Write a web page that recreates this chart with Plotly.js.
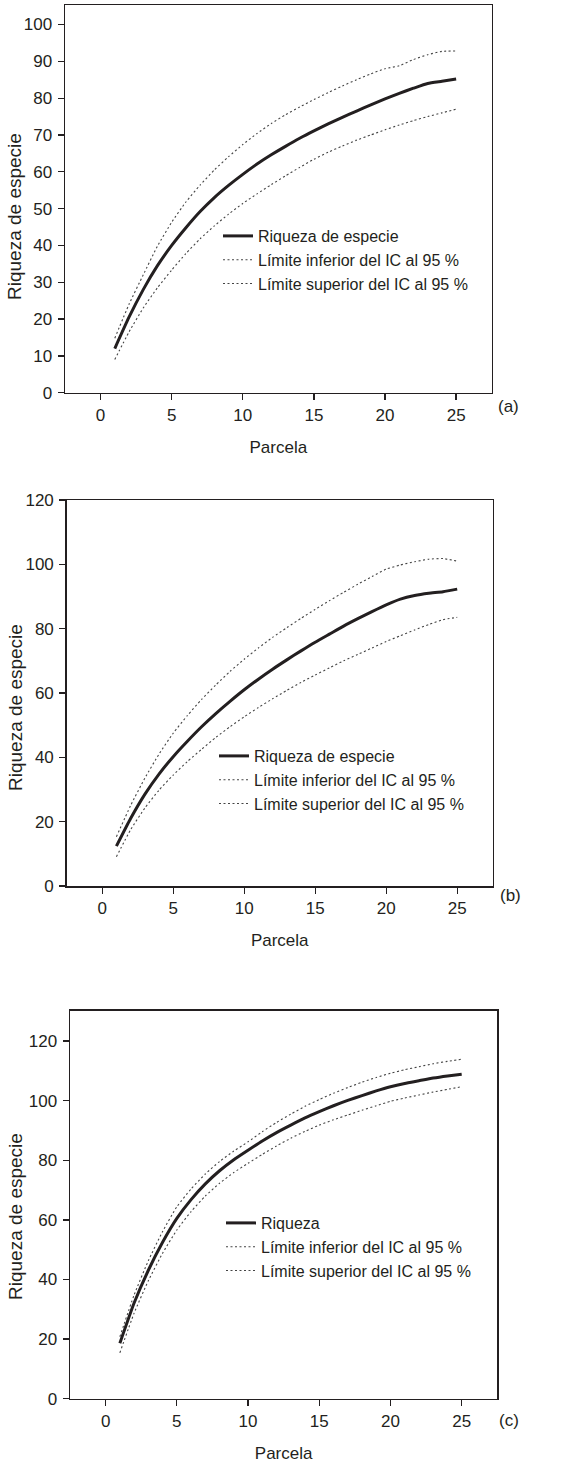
<!DOCTYPE html>
<html>
<head>
<meta charset="utf-8">
<script src="https://cdn.plot.ly/plotly-3.0.1.min.js"></script>
<style>
html,body{margin:0;padding:0;background:#fff;}
#chart{width:583px;height:1464px;}
</style>
</head>
<body>
<div id="chart"></div>
<script>
// ---- Data ----
const parcela = [1,2,3,4,5,6,7,8,9,10,11,12,13,14,15,16,17,18,19,20,21,22,23,24,25];

// Panel (a)
const riquezaA  = [12,20.5,28,34.5,40,44.8,49.2,53,56.3,59.3,62.1,64.6,66.9,69.1,71.1,73,74.8,76.5,78.2,79.8,81.3,82.7,84,84.6,85.2];
const inferiorA = [9,16.5,23,28.5,33.3,37.8,41.8,45.3,48.5,51.4,54,56.5,58.9,61.2,63.4,65.3,67,68.6,70,71.4,72.7,73.9,75,76,77];
const superiorA = [14.8,24,32,39.8,46.3,51.8,56.4,60.5,64.1,67.4,70.4,73.1,75.5,77.6,79.6,81.5,83.3,85,86.6,88,88.8,90.5,91.8,92.7,92.8];

// Panel (b)
const riquezaB  = [12.4,21,28.5,34.8,40.2,45,49.5,53.6,57.4,61,64.3,67.4,70.3,73.1,75.8,78.3,80.8,83.1,85.3,87.4,89.2,90.3,91,91.5,92.3];
const inferiorB = [9.1,17.5,24.2,29.8,34.5,38.7,42.5,46.2,49.5,52.6,55.5,58.2,60.8,63.3,65.6,67.8,70,72,74,76,77.8,79.6,81.3,82.8,83.5];
const superiorB = [15.3,25,33.5,41,47.5,53,58,62.5,66.7,70.5,74,77.3,80.3,83.2,86,88.7,91.3,93.8,96.2,98.5,99.8,100.8,101.6,101.8,101];

// Panel (c)
const riquezaC  = [18.6,32.1,43.1,52.5,60.5,66.8,72.1,76.5,80.2,83.4,86.5,89.3,91.8,94.2,96.3,98.3,100.1,101.7,103.3,104.7,105.8,106.7,107.6,108.3,108.9];
const inferiorC = [15.4,28.7,39.6,48.8,56.6,62.8,68,72.3,75.9,79,82,84.8,87.4,89.7,91.8,93.6,95.2,96.8,98.3,99.8,100.9,101.9,102.9,103.8,104.7];
const superiorC = [20.8,34.8,46.3,56.1,64.4,70.4,75.4,79.6,83.1,86.2,89.6,92.7,95.5,98.1,100.4,102.5,104.4,106.2,107.8,109.2,110.4,111.4,112.4,113.2,113.9];

const xTicks = [0,5,10,15,20,25];
const yTicksA = [0,10,20,30,40,50,60,70,80,90,100];
const yTicksB = [0,20,40,60,80,100,120];
const yTicksC = [0,20,40,60,80,100,120];

const nameRiq = "Riqueza de especie";
const nameRiqC = "Riqueza";
const nameInf = "Límite inferior del IC al 95 %";
const nameSup = "Límite superior del IC al 95 %";
const xTitle = "Parcela";
const yTitle = "Riqueza de especie";
const panelLabels = ["(a)","(b)","(c)"];

// ---- Styling ----
const W = 583, H = 1464;
const FONT = "Liberation Sans, Arial, Helvetica, sans-serif";
const INK = "#231f20";
const solid = {color: INK, width: 3, shape:"spline", smoothing:0.5};
const dotted = {color: "#444", width: 1.1, dash: "2px,2.5px", shape:"spline", smoothing:0.5};

function mk(x, y, name, line, xa, ya, leg){
  return {x:x, y:y, name:name, type:"scatter", mode:"lines", line:line,
          xaxis:xa, yaxis:ya, legend:leg, hoverinfo:"skip"};
}

const data = [
  mk(parcela, riquezaA, nameRiq, solid, "x", "y", "legend"),
  mk(parcela, inferiorA, nameInf, dotted, "x", "y", "legend"),
  mk(parcela, superiorA, nameSup, dotted, "x", "y", "legend"),
  mk(parcela, riquezaB, nameRiq, solid, "x2", "y2", "legend2"),
  mk(parcela, inferiorB, nameInf, dotted, "x2", "y2", "legend2"),
  mk(parcela, superiorB, nameSup, dotted, "x2", "y2", "legend2"),
  mk(parcela, riquezaC, nameRiqC, solid, "x3", "y3", "legend3"),
  mk(parcela, inferiorC, nameInf, dotted, "x3", "y3", "legend3"),
  mk(parcela, superiorC, nameSup, dotted, "x3", "y3", "legend3")
];

function px2x(p){ return p / W; }
function py2y(p){ return 1 - p / H; }

function xAxis(domLeft, domRight, anchor){
  return {
    domain:[px2x(domLeft), px2x(domRight)], anchor:anchor,
    range:[-2.5, 27.5], tickvals:xTicks, ticks:"outside", ticklen:6, tickwidth:1.3,
    tickcolor:INK, showline:true, linecolor:INK, linewidth:1.5, mirror:true,
    showgrid:false, zeroline:false, ticklabelstandoff:0,
    tickfont:{family:FONT, size:17, color:INK},
    title:{text:xTitle, font:{family:FONT, size:17, color:INK}, standoff:17}
  };
}
function yAxis(domTop, domBottom, anchor, range, ticks){
  return {
    domain:[py2y(domBottom), py2y(domTop)], anchor:anchor,
    range:range, tickvals:ticks, ticks:"outside", ticklen:6, tickwidth:1.3,
    tickcolor:INK, showline:true, linecolor:INK, linewidth:1.5, mirror:true,
    showgrid:false, zeroline:false, ticklabelstandoff:2,
    tickfont:{family:FONT, size:17, color:INK}
  };
}

function legendAt(xpx, ypx){
  return {x:px2x(xpx), y:py2y(ypx), xanchor:"left", yanchor:"top",
          bgcolor:"rgba(0,0,0,0)", borderwidth:0,
          font:{family:FONT, size:16, color:INK}, itemclick:false, itemdoubleclick:false};
}

function yTitleAnn(ypx){
  return {text:yTitle, xref:"paper", yref:"paper", x:px2x(15), y:py2y(ypx), showarrow:false,
          textangle:-90, xanchor:"center", yanchor:"middle", font:{family:FONT, size:19, color:INK}};
}
function panelAnn(i, xpx, ypx){
  return {text:panelLabels[i], xref:"paper", yref:"paper", x:px2x(xpx), y:py2y(ypx), showarrow:false,
          xanchor:"center", yanchor:"middle", font:{family:FONT, size:17, color:INK}};
}

const layout = {
  width:W, height:H,
  margin:{l:0, r:0, t:0, b:0},
  paper_bgcolor:"#fff", plot_bgcolor:"#fff",
  showlegend:true,
  xaxis: xAxis(65, 491.7, "y"),
  yaxis: yAxis(5, 392.7, "x", [0,105.3], yTicksA),
  xaxis2: xAxis(66.7, 492.7, "y2"),
  yaxis2: yAxis(500, 886, "x2", [0,120], yTicksB),
  xaxis3: xAxis(70, 497.3, "y3"),
  yaxis3: yAxis(1010.7, 1398.7, "x3", [0,130.2], yTicksC),
  legend: legendAt(218, 219),
  legend2: legendAt(214, 739),
  legend3: legendAt(221, 1206),
  annotations:[
    yTitleAnn(217), yTitleAnn(708), yTitleAnn(1217),
    panelAnn(0, 508, 407), panelAnn(1, 510, 895), panelAnn(2, 509, 1420)
  ]
};

Plotly.newPlot("chart", data, layout, {staticPlot:true, displayModeBar:false});
</script>
</body>
</html>
